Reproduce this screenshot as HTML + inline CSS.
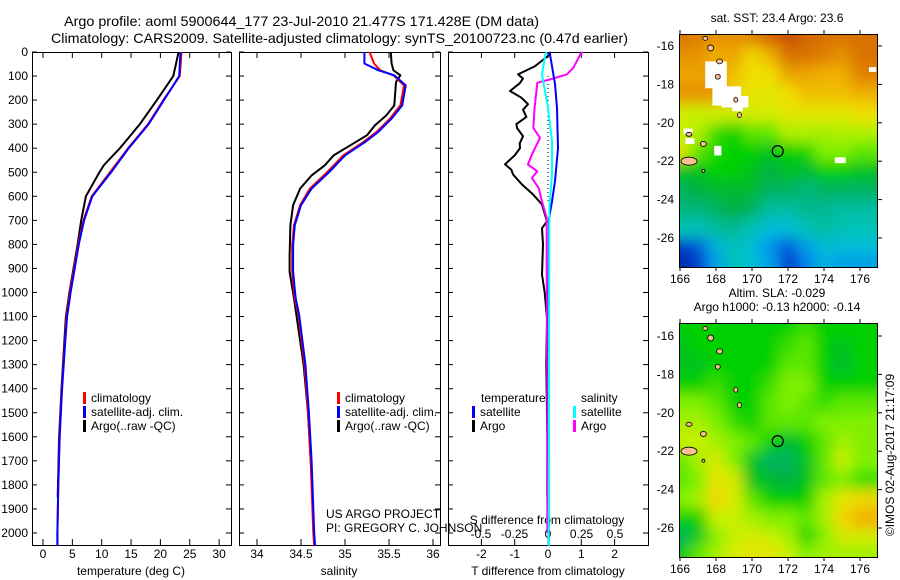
<!DOCTYPE html>
<html><head><meta charset="utf-8"><style>
html,body{margin:0;padding:0;background:#fff;}
svg{display:block;font-family:"Liberation Sans",sans-serif;}
</style></head><body>
<svg id="chart" width="900" height="580" viewBox="0 0 900 580" xmlns="http://www.w3.org/2000/svg">
<defs>
<filter id="blur1" x="0" y="0" width="1" height="1"><feGaussianBlur stdDeviation="7"/></filter>
<clipPath id="clipTop"><rect x="679" y="34" width="199" height="233"/></clipPath>
<clipPath id="clipBot"><rect x="679" y="323" width="199" height="234"/></clipPath>
</defs>
<text x="64" y="26" font-size="14" textLength="475" lengthAdjust="spacingAndGlyphs">Argo profile: aoml 5900644_177 23-Jul-2010 21.477S 171.428E (DM data)</text>
<text x="51" y="43" font-size="14" textLength="577" lengthAdjust="spacingAndGlyphs">Climatology: CARS2009. Satellite-adjusted climatology: synTS_20100723.nc (0.47d earlier)</text>
<g id="layer"></g>
</svg>
<script>
// ---------- data ----------
const tDepths = [0,100,150,200,300,400,500,600,700,800,900,1000,1100,1200,1400,1600,1800,2000,2054];
const tClim   = [23.6,23.3,21.9,20.5,17.9,14.5,11.4,8.3,6.9,6.0,5.3,4.6,4.0,3.75,3.2,2.8,2.6,2.45,2.45];
const tSat    = [23.4,23.2,21.9,20.6,18.0,14.6,11.6,8.4,7.0,6.1,5.4,4.7,4.1,3.8,3.25,2.85,2.6,2.45,2.45];
const tArgoDepths = [0,100,150,200,300,400,470,500,600,700,800,900,1000,1100,1200,1400,1600,1800,1850];
const tArgo   = [23.1,22.2,20.8,19.4,16.5,13.1,10.4,9.6,7.3,6.5,5.9,5.2,4.5,3.9,3.65,3.15,2.75,2.55,2.5];

const sDepths = [0,48,76,97,139,222,277,332,374,430,499,568,637,720,803,914,1025,1094,1300,1500,1700,2000,2054];
const sClim   = [35.28,35.33,35.4,35.55,35.67,35.63,35.51,35.36,35.21,34.98,34.8,34.6,34.49,34.42,34.4,34.4,34.43,34.47,34.54,34.58,34.61,34.64,34.65];
const sSat    = [35.22,35.22,35.38,35.56,35.69,35.65,35.53,35.38,35.23,35.0,34.82,34.62,34.5,34.43,34.41,34.41,34.44,34.48,34.55,34.59,34.62,34.65,34.66];
const sArgoDepths = [0,48,76,97,125,222,263,305,346,388,430,471,513,568,637,720,845,914,1025,1300,1500,1700,1850];
const sArgo   = [35.52,35.53,35.55,35.63,35.58,35.56,35.47,35.34,35.25,35.06,34.87,34.77,34.62,34.49,34.41,34.38,34.37,34.37,34.42,34.53,34.58,34.61,34.63];

const dTArgoDepths = [0,10,60,93,110,130,162,190,217,240,270,300,316,350,380,400,430,467,490,509,551,592,634,704,733,800,925,1000,1108,1300,1600,1850];
const dTArgo  = [0.05,0.06,-0.4,-0.9,-0.75,-0.85,-1.14,-0.8,-0.6,-0.75,-0.65,-0.95,-0.93,-0.75,-0.85,-0.84,-1.0,-1.29,-1.1,-1.05,-0.78,-0.45,-0.18,-0.03,-0.18,-0.15,-0.18,-0.1,-0.03,-0.05,-0.02,-0.02];
const dTSatDepths = [0,10,133,233,400,537,621,692,1000,2000,2054];
const dTSat   = [0.02,0.06,0.21,0.27,0.3,0.21,0.12,0.03,0.02,0.02,0.02];
const dSArgoDepths = [0,10,65,93,114,128,232,315,357,426,468,496,524,565,621,690,900,1400,2000];
const dSArgo  = [0.26,0.24,0.19,0.14,0.015,-0.08,-0.1,-0.11,-0.06,-0.12,-0.15,-0.08,-0.12,-0.07,-0.045,-0.01,-0.01,-0.005,-0.005];
const dSSatDepths = [0,10,93,232,370,510,650,2000,2054];
const dSSat   = [-0.01,-0.02,-0.045,0,0.03,0.03,0.01,0.005,0.005];

const depthTicks = [0,100,200,300,400,500,600,700,800,900,1000,1100,1200,1300,1400,1500,1600,1700,1800,1900,2000];
const tTicks = [0,5,10,15,20,25,30];
const sTicks = [34,34.5,35,35.5,36];
const sTickLabels = ["34","34.5","35","35.5","36"];
const dTTicks = [-2,-1,0,1,2];
const dSTicks = [-0.5,-0.25,0,0.25,0.5];
const dSTickLabels = ["-0.5","-0.25","0","0.25","0.5"];

const lonTicks = [166,168,170,172,174,176];
const latTicks = [-16,-18,-20,-22,-24,-26];
const gridLons = [166,167,168,169,170,171,172,173,174,175,176];
const gridLats = [-15.5,-16.5,-17.5,-18.5,-19.5,-20.5,-21.5,-22.5,-23.5,-24.5,-25.5,-26.5,-27.3];
const sstGrid = [
[.9,.88,.85,.85,.88,.92,.95,.92,.9,.9,.9],
[.85,.85,.8,.82,.75,.8,.9,.9,.88,.85,.9],
[.82,.82,.82,.78,.74,.74,.82,.82,.8,.8,.88],
[.85,.85,.85,.76,.72,.72,.74,.78,.78,.78,.8],
[.7,.68,.7,.68,.7,.7,.72,.72,.72,.72,.74],
[.68,.66,.58,.55,.6,.6,.66,.66,.65,.66,.66],
[.72,.6,.56,.55,.55,.52,.55,.56,.62,.62,.6],
[.52,.52,.55,.55,.52,.48,.52,.5,.55,.55,.52],
[.45,.48,.5,.5,.5,.45,.45,.42,.45,.45,.45],
[.42,.42,.45,.48,.45,.38,.38,.4,.4,.38,.38],
[.35,.35,.38,.4,.35,.3,.3,.35,.38,.35,.35],
[.1,.15,.28,.35,.3,.22,.15,.25,.3,.3,.3],
[.05,.12,.25,.35,.3,.25,.12,.2,.28,.25,.25]];
const slaGrid = [
[.55,.55,.55,.55,.55,.55,.55,.58,.55,.55,.55],
[.52,.55,.55,.55,.55,.55,.58,.6,.55,.52,.55],
[.52,.52,.55,.55,.55,.55,.6,.6,.55,.5,.55],
[.55,.55,.58,.55,.55,.58,.62,.62,.55,.55,.55],
[.62,.62,.6,.55,.55,.6,.62,.6,.58,.6,.6],
[.65,.65,.62,.58,.55,.6,.6,.6,.62,.62,.62],
[.68,.68,.65,.62,.6,.55,.5,.55,.6,.65,.62],
[.6,.65,.7,.62,.52,.45,.45,.52,.6,.68,.62],
[.6,.62,.72,.7,.52,.5,.48,.52,.6,.62,.58],
[.62,.65,.75,.7,.6,.55,.55,.55,.65,.72,.75],
[.55,.55,.68,.68,.65,.62,.62,.6,.65,.75,.8],
[.45,.52,.62,.68,.7,.68,.65,.55,.62,.7,.7],
[.52,.6,.65,.7,.72,.72,.68,.62,.65,.65,.65]];
const argoLon = 171.428, argoLat = -21.477;

// ---------- helpers ----------
const NS="http://www.w3.org/2000/svg";
const layer=document.getElementById('layer');
function mk(tag,attrs,parent){const e=document.createElementNS(NS,tag);for(const k in attrs)e.setAttribute(k,attrs[k]);(parent||layer).appendChild(e);return e;}
function txt(x,y,s,size,anchor,parent){const t=mk('text',{x:x,y:y,'font-size':size||12,'text-anchor':anchor||'start'},parent);t.textContent=s;return t;}

const Y0=52, PXD=0.2405;
const yD=d=>Y0+d*PXD;
const xT=t=>43+t*5.87;
const xS=s=>257+(s-34)*88;
const xDT=t=>548+t*33.3;
const xDS=s=>548+s*134;

function polyline(xs,ds,fx,color,w,name){
  const pts=xs.map((v,i)=>fx(v).toFixed(1)+','+yD(ds[i]).toFixed(1)).join(' ');
  const p=mk('polyline',{points:pts,fill:'none',stroke:color,'stroke-width':w,'stroke-linejoin':'round'});
  
  
  return p;
}

function panel(x0,x1,name){
  const r=mk('rect',{x:x0+0.5,y:Y0+0.5,width:x1-x0,height:545-Y0,fill:'none',stroke:'#000','stroke-width':1});
  
  
}
function xTicks(vals,labels,fx,y,name){
  vals.forEach((v,i)=>{
    const x=fx(v);
    mk('line',{x1:x,x2:x,y1:Y0,y2:Y0+6,stroke:'#000'});
    mk('line',{x1:x,x2:x,y1:545,y2:539,stroke:'#000'});
    const t=txt(x,y,labels[i],12,'middle');
    
    
  });
}

panel(32,231,'temperature-panel');
panel(239,440,'salinity-panel');
panel(448,648,'difference-panel');

depthTicks.forEach(d=>{
  const y=yD(d);
  [[32,231],[239,440],[448,648]].forEach(([a,b])=>{
    mk('line',{x1:a,x2:a+5,y1:y,y2:y,stroke:'#000'});
    mk('line',{x1:b,x2:b-5,y1:y,y2:y,stroke:'#000'});
  });
  const t=txt(28,y+4,String(d),12,'end');
  
  
});

xTicks(tTicks,tTicks.map(String),xT,558,'temperature-tick-label');
xTicks(sTicks,sTickLabels,xS,558,'salinity-tick-label');
xTicks(dTTicks,dTTicks.map(String),xDT,558,'t-diff-tick-label');
dSTicks.forEach((v,i)=>{const t=txt(xDS(v),538,dSTickLabels[i],12,'middle');
  });

let t;
t=txt(131,575,'temperature (deg C)',12,'middle');
t=txt(339,575,'salinity',12,'middle');
t=txt(548,575,'T difference from climatology',12,'middle');
t=txt(547,524,'S difference from climatology',12,'middle');
t=txt(326,518,'US ARGO PROJECT',12);
t=txt(326,532,'PI: GREGORY C. JOHNSON',12);

polyline(tArgo,tArgoDepths,xT,'#000',2,'temperature-argo-line');
polyline(tClim,tDepths,xT,'#ff0000',2,'temperature-climatology-line');
polyline(tSat,tDepths,xT,'#0000ff',2,'temperature-satellite-line');
polyline(sArgo,sArgoDepths,xS,'#000',2,'salinity-argo-line');
polyline(sClim,sDepths,xS,'#ff0000',2,'salinity-climatology-line');
polyline(sSat,sDepths,xS,'#0000ff',2,'salinity-satellite-line');
const zl=mk('line',{x1:548,x2:548,y1:yD(100),y2:yD(620),stroke:'#000','stroke-dasharray':'1,3'});

polyline(dTArgo,dTArgoDepths,xDT,'#000',2,'t-diff-argo-line');
polyline(dSArgo,dSArgoDepths,xDS,'#ff00ff',2,'s-diff-argo-line');
polyline(dTSat,dTSatDepths,xDT,'#0000ff',2,'t-diff-satellite-line');
polyline(dSSat,dSSatDepths,xDS,'#00ffff',2,'s-diff-satellite-line');

function legendEntry(x,y,color,label){
  const g=mk('g',{});
  
  
  mk('rect',{x:x,y:y-10,width:3,height:12,fill:color},g);
  txt(x+8,y,label,12,'start',g);
}
legendEntry(83,402,'#ff0000','climatology');
legendEntry(83,416,'#0000ff','satellite-adj. clim.');
legendEntry(83,430,'#000','Argo(..raw -QC)');
legendEntry(337,402,'#ff0000','climatology');
legendEntry(337,416,'#0000ff','satellite-adj. clim.');
legendEntry(337,430,'#000','Argo(..raw -QC)');
t=txt(481,402,'temperature',12);
t=txt(581,402,'salinity',12);
legendEntry(472,416,'#0000ff','satellite');
legendEntry(472,430,'#000','Argo');
legendEntry(573,416,'#00ffff','satellite');
legendEntry(573,430,'#ff00ff','Argo');

// ---------- maps ----------
const cstops=[[0,'#001890'],[.12,'#0040d0'],[.22,'#0090f0'],[.32,'#00c8d0'],[.4,'#00b890'],[.48,'#00b040'],[.55,'#00d000'],[.62,'#80f000'],[.68,'#c8f000'],[.74,'#f0e000'],[.8,'#f0b000'],[.88,'#e08000'],[.95,'#c85000'],[1,'#b03000']];
function hex(h){return [1,3,5].map(i=>parseInt(h.substr(i,2),16));}
function cmap(v){
  for(let i=1;i<cstops.length;i++){if(v<=cstops[i][0]){const a=cstops[i-1],b=cstops[i];const f=(v-a[0])/(b[0]-a[0]);const ca=hex(a[1]),cb=hex(b[1]);return 'rgb('+ca.map((c,k)=>Math.round(c+(cb[k]-c)*f)).join(',')+')';}}
  return cstops[cstops.length-1][1];
}
function map(top,bot,latTop,latBot,grid,clip,name,titles,gaps){
  const L=679,R=878;
  const xL=lon=>680+(lon-166)*18;
  const yL=lat=>latTop+(lat-(-16))*((latBot-latTop)/(-10));
  const g=mk('g',{'clip-path':'url(#'+clip+')'});
  
  
  const gb=mk('g',{filter:'url(#blur1)'},g);
  mk('rect',{x:L,y:top,width:R-L,height:bot-top,fill:cmap(grid[6][5])},gb);
  grid.forEach((row,ri)=>row.forEach((v,ci)=>{
    let x=xL(gridLons[ci]-0.5), w=18, y=yL(gridLats[ri]+0.5), h=19.2;
    if(ci===0){x-=25;w+=25;} if(ci===row.length-1){w+=25;}
    if(ri===0){y-=25;h+=25;} if(ri===grid.length-1){h+=25;}
    const c=mk('rect',{x:x,y:y,width:w+0.6,height:h+0.6,fill:cmap(v)},gb);
    
    
  }));
  gaps.forEach(d=>{
    const r=mk('rect',{x:xL(d[0]),y:yL(d[1]),width:d[2]*18,height:d[3]*19.2,fill:'#fff'},g);
    
    
  });
  [[167.7,-16.1,3,3],[167.4,-15.6,2.5,2],[168.2,-16.8,3,2.5],[168.1,-17.6,2.5,2.5],[169.1,-18.8,2,2.5],[169.3,-19.6,2,2.5],[166.5,-20.6,3,2],[167.3,-21.1,3,2.5],[166.5,-22.0,8,4],[167.3,-22.5,1.5,1.5]].forEach(d=>{
    const e=mk('ellipse',{cx:xL(d[0]),cy:yL(d[1]),rx:d[2],ry:d[3],fill:'#f8c090',stroke:'#000','stroke-width':0.8},g);
    
    
  });
  const c=mk('circle',{cx:xL(argoLon),cy:yL(argoLat),r:5.5,fill:'none',stroke:'#000','stroke-width':1.2});
  
  
  mk('rect',{x:L+0.5,y:top+0.5,width:R-L-1,height:bot-top,fill:'none',stroke:'#000'});
  lonTicks.forEach(lon=>{const x=xL(lon);mk('line',{x1:x,x2:x,y1:top,y2:top-4,stroke:'#000'});mk('line',{x1:x,x2:x,y1:bot,y2:bot+4,stroke:'#000'});
    const tl=txt(x,bot+16,String(lon),12,'middle');});
  latTicks.forEach(lat=>{const y=yL(lat);mk('line',{x1:R,x2:R+4,y1:y,y2:y,stroke:'#000'});
    const tl=txt(674,y+4,String(lat),12,'end');});
  titles.forEach((s,i)=>{const tl=txt(777,top-12-(titles.length-1-i)*14,s,12,'middle');});
}
map(34,267,46,238,sstGrid,'clipTop','sst-map',['sat. SST: 23.4 Argo: 23.6'],
  [[167.4,-16.8,1.2,1.4],[167.8,-18.1,1.6,1.0],[168.3,-18.6,1.5,0.6],[168.9,-19.0,0.6,0.4],[166.2,-20.3,0.5,0.3],[166.3,-20.8,0.5,0.3],[176.5,-17.1,0.4,0.25],[174.6,-21.8,0.6,0.3],[167.9,-21.2,0.4,0.5]]);
map(323,557,336,528,slaGrid,'clipBot','sla-map',['Altim. SLA: -0.029','Argo h1000: -0.13 h2000: -0.14'],[]);
t=txt(0,0,'\u00A9IMOS 02-Aug-2017 21:17:09',12,'middle');
t.setAttribute('transform','translate(894,455) rotate(-90)');

</script>
</body></html>
